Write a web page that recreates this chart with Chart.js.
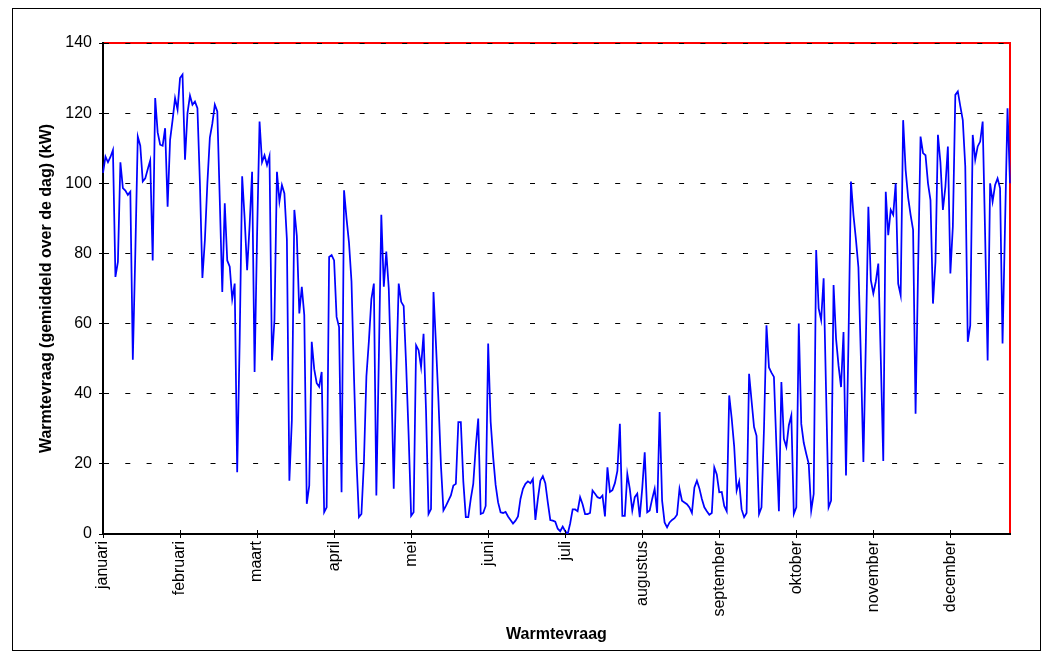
<!DOCTYPE html>
<html>
<head>
<meta charset="utf-8">
<script src="https://cdn.jsdelivr.net/npm/chart.js@4.4.1/dist/chart.umd.min.js"></script>
<style>
  html, body { margin: 0; padding: 0; background: #ffffff; }
  #wrap { width: 1052px; height: 658px; position: relative; }
</style>
</head>
<body>
<div id="wrap"><canvas id="c" width="1052" height="658"></canvas></div>
<script>
// Month names shown on the category axis (one label every 31 days)
const monthNames = ['januari', 'februari', 'maart', 'april', 'mei', 'juni', 'juli',
  'augustus', 'september', 'oktober', 'november', 'december'];
const labelInterval = 31;

// Y-axis tick settings
const yMin = 0;
const yMax = 140;
const yStep = 20;

// Daily heat demand (kW, averaged over the day)
const heatDemand = [
  103, 107.6, 106, 107.5, 109.5, 73.3, 77.6, 106, 98.6, 97.9,
  96.7, 97.6, 49.7, 80, 113.3, 110.7, 100.5, 101.4, 104, 106.5,
  78, 124.3, 114.5, 111, 110.7, 115.7, 93.3, 112.4, 118, 124.3,
  121, 130, 131, 106.7, 120, 125, 122.4, 123.3, 121.4, 100,
  73, 83.8, 100, 113, 117, 122.4, 120.5, 95, 69, 94.3,
  78, 76.2, 67, 71.4, 17.6, 55, 102, 90, 75.2, 88,
  103.3, 46.2, 85, 117.6, 106, 108, 105.2, 107.8, 49.5, 61,
  103.3, 94.8, 99.5, 97.1, 84, 15.2, 32.4, 92.4, 85, 62.9,
  70.5, 62.4, 8.6, 13.8, 54.8, 47, 43, 42, 46.2, 6.2,
  7.6, 79, 79.5, 78, 61.9, 59, 11.9, 98, 90, 83,
  72, 45, 21, 4.8, 5.7, 20.5, 45, 55, 67, 71.4,
  11, 50, 91, 70.5, 80.5, 70, 45, 12.9, 45, 71.4,
  66.2, 65, 48, 28, 5.2, 6.2, 53.8, 52.4, 47.6, 57.1,
  35, 5.7, 7.1, 69, 54, 38, 19.5, 6.7, 8, 9.5,
  11, 13.8, 14.3, 31.9, 31.9, 15, 4.8, 4.8, 10, 14.3,
  24.8, 32.9, 5.7, 6, 8, 54.3, 32, 22, 14, 9,
  6.2, 6, 6.3, 5, 4, 3, 3.8, 5, 10, 12.9,
  14.3, 15, 14.5, 15.7, 4, 10, 15.2, 16.5, 14.5, 9,
  4, 3.8, 3.5, 1.5, 0.8, 2.1, 0.8, 0, 3, 7,
  7, 6.5, 10.5, 8.5, 5.7, 5.7, 6, 12.4, 11.5, 10.5,
  10.2, 11, 5, 19, 12, 12.5, 14.5, 18, 31.4, 5.2,
  5.2, 17.1, 12.9, 6.7, 10.5, 11.5, 4.8, 13, 23.3, 6.2,
  6.7, 10, 12.9, 6, 34.8, 9.5, 3.3, 1.9, 3.3, 4,
  4.5, 5.5, 12.9, 9.5, 9, 8.5, 7.6, 6, 13.3, 15.2,
  13, 10, 7.6, 6.5, 5.5, 6, 19, 17, 11.9, 12,
  8, 6.5, 39.5, 33, 25, 12.4, 15, 7, 4.8, 6,
  45.7, 38, 30.5, 28, 5.7, 7.6, 30, 59.5, 47.5, 46,
  44.8, 25, 6.5, 43.3, 27.1, 24.8, 31, 33.8, 5.7, 7.6,
  60, 31.4, 26, 22.9, 20, 6.7, 11.4, 81, 64.3, 61,
  72.9, 40, 7.6, 9.5, 71, 55.7, 48, 41.9, 57.6, 16.7,
  55, 100.5, 91, 84, 76, 50, 20.5, 55, 93.3, 72.4,
  68.6, 72, 77.1, 50, 20.8, 97.6, 85.2, 92.4, 91, 100,
  71.4, 68.1, 118, 103.8, 96, 91, 86.7, 34.3, 75, 113.3,
  108.6, 108, 100, 95.2, 65.7, 77.6, 113.8, 106, 92.4, 99,
  110.5, 74.3, 87.6, 125.2, 126.2, 122, 118, 104.8, 54.8, 59.5,
  113.8, 106.7, 110.5, 111.9, 117.6, 85, 49.5, 100, 94.8, 99.5,
  101.4, 98.6, 54.3, 88, 121.4, 100
];

// Category labels: month name every 31 points, empty otherwise
const categories = heatDemand.map((_, i) =>
  i % labelInterval === 0 ? (monthNames[i / labelInterval] || '') : '');

const FONT = 'Liberation Sans, Arial, sans-serif';

const framePlugin = {
  id: 'frame',
  beforeDraw(chart) {
    const ctx = chart.ctx;
    const a = chart.chartArea;
    ctx.save();
    ctx.fillStyle = '#ffffff';
    ctx.fillRect(0, 0, chart.width, chart.height);
    // outer chart border
    ctx.strokeStyle = '#000000';
    ctx.lineWidth = 1;
    ctx.strokeRect(12.5, 8.5, 1028, 642);
    // plot area border (red)
    ctx.strokeStyle = '#ff0000';
    ctx.lineWidth = 2;
    ctx.strokeRect(a.left, a.top, a.right - a.left, a.bottom - a.top);
    ctx.restore();
  },
  afterDraw(chart) {
    // inner half of the crossing tick marks on the category axis
    const ctx = chart.ctx;
    const sx = chart.scales.x;
    const a = chart.chartArea;
    ctx.save();
    ctx.strokeStyle = '#000000';
    ctx.lineWidth = 1;
    for (let i = 0; i < sx.ticks.length; i++) {
      const x = Math.round(sx.getPixelForTick(i)) + 0.5;
      ctx.beginPath();
      ctx.moveTo(x, a.bottom - 4);
      ctx.lineTo(x, a.bottom);
      ctx.stroke();
    }
    ctx.restore();
  }
};

new Chart(document.getElementById('c'), {
  type: 'line',
  data: {
    labels: categories,
    datasets: [{
      data: heatDemand,
      borderColor: '#0000ff',
      borderWidth: 1.75,
      pointRadius: 0,
      tension: 0,
      fill: false
    }]
  },
  options: {
    responsive: false,
    animation: false,
    layout: { padding: { left: 0, top: 43, right: 42, bottom: 0 } },
    plugins: { legend: { display: false }, tooltip: { enabled: false } },
    scales: {
      x: {
        type: 'category',
        offset: false,
        afterBuildTicks: (s) => { s.ticks = s.ticks.filter(t => categories[t.value] !== ''); },
        afterFit: (s) => { s.height = 124; },
        grid: { display: true, drawOnChartArea: false, drawTicks: true, tickLength: 4, tickColor: '#000000', tickWidth: 1 },
        border: { display: true, color: '#000000', width: 2 },
        ticks: {
          autoSkip: false, minRotation: 90, maxRotation: 90, padding: 3,
          color: '#000000', font: { family: FONT, size: 16 }
        },
        title: {
          display: true, text: 'Warmtevraag', color: '#000000',
          font: { family: FONT, size: 16, weight: 'bold' },
          padding: { top: 0, bottom: 14 }
        }
      },
      y: {
        min: yMin, max: yMax,
        afterFit: (s) => { s.width = 103; },
        grid: { color: '#000000', lineWidth: 1, drawTicks: true, tickLength: 4, tickColor: '#000000', tickWidth: 1 },
        border: { display: true, color: '#000000', width: 2, dash: [5, 16.3] },
        ticks: {
          stepSize: yStep, padding: 7, color: '#000000',
          font: { family: FONT, size: 16 }
        },
        title: {
          display: true, text: 'Warmtevraag (gemiddeld over de dag) (kW)', color: '#000000',
          font: { family: FONT, size: 16, weight: 'bold' },
          padding: { top: 37, bottom: 0 }
        }
      }
    }
  },
  plugins: [framePlugin]
});
</script>
</body>
</html>
